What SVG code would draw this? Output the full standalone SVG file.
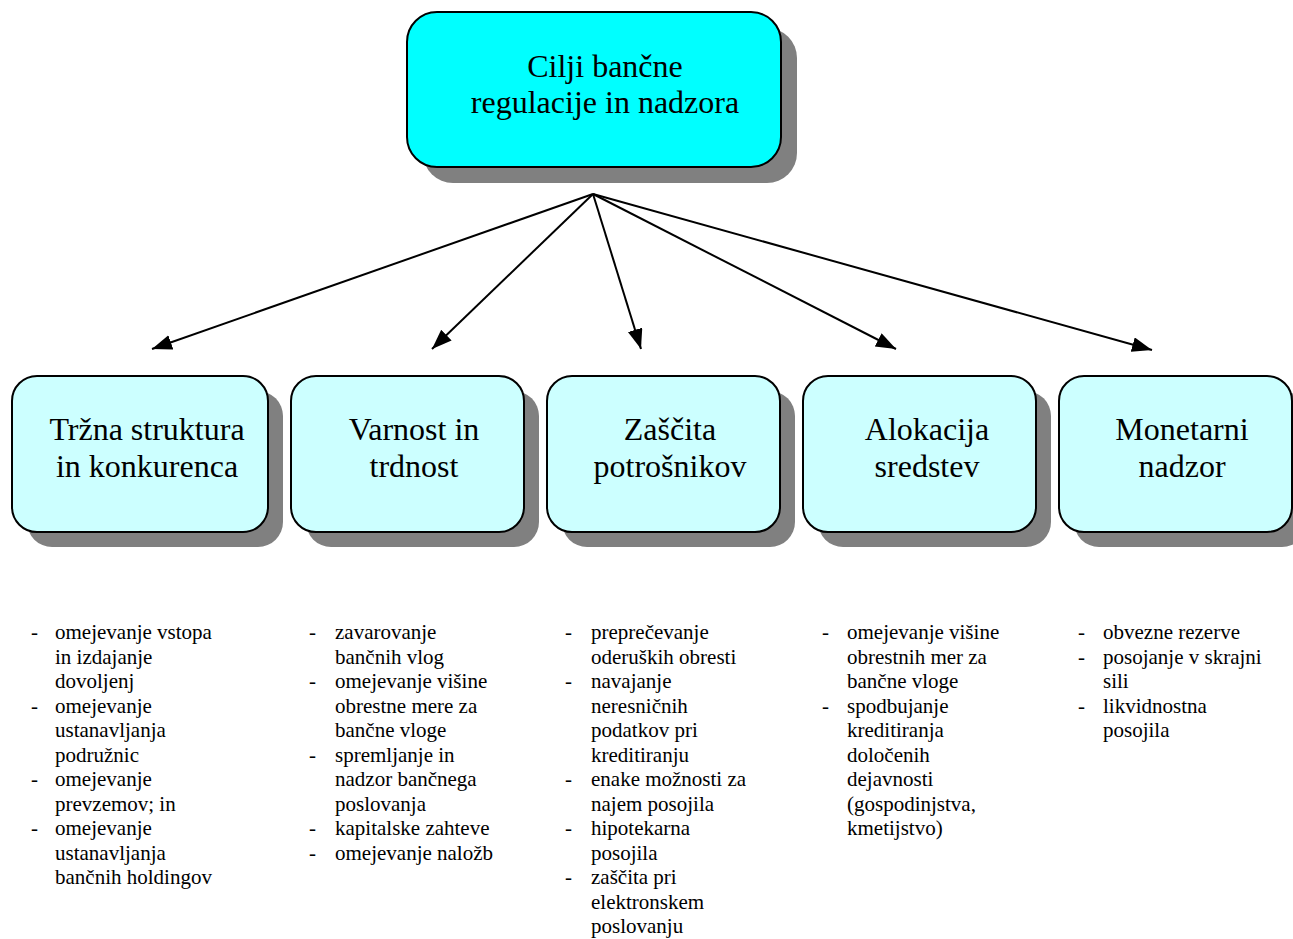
<svg xmlns="http://www.w3.org/2000/svg" width="1293" height="939" viewBox="0 0 1293 939">
<style>
.shadow{fill:#808080}
.top{fill:#00FFFF;stroke:#000;stroke-width:2}
.box{fill:#CCFFFF;stroke:#000;stroke-width:2}
.t{font-family:"Liberation Serif","Times New Roman",serif;font-size:32px;fill:#000;text-anchor:middle}
.l{font-family:"Liberation Serif","Times New Roman",serif;font-size:21px;fill:#000}
.c{stroke:#000;stroke-width:2;fill:none;marker-end:url(#ah)}
</style>
<defs>
<marker id="ah" markerUnits="userSpaceOnUse" markerWidth="22" markerHeight="16" refX="20" refY="7.5" orient="auto">
<path d="M0,0 L20,7.5 L0,15 Z" fill="#000"/>
</marker>
</defs>
<g id="n0">
<rect class="shadow" x="423" y="28" width="374" height="155" rx="30"/>
<rect class="top" x="407" y="12" width="374" height="155" rx="30"/>
<text class="t" x="605" y="77">Cilji bančne</text>
<text class="t" x="605" y="113">regulacije in nadzora</text>
</g>
<g id="connectors">
<line class="c" x1="593" y1="194" x2="152" y2="349"/>
<line class="c" x1="593" y1="194" x2="432" y2="349"/>
<line class="c" x1="593" y1="194" x2="641" y2="349"/>
<line class="c" x1="593" y1="194" x2="896" y2="349"/>
<line class="c" x1="593" y1="194" x2="1152" y2="350"/>
</g>
<g id="n1">
<rect class="shadow" x="27" y="391" width="256" height="156" rx="25"/>
<rect class="box" x="12" y="376" width="256" height="156" rx="25"/>
<text class="t" x="147" y="440">Tržna struktura</text>
<text class="t" x="147" y="477">in konkurenca</text>
</g>
<g id="n2">
<rect class="shadow" x="306" y="391" width="233" height="156" rx="25"/>
<rect class="box" x="291" y="376" width="233" height="156" rx="25"/>
<text class="t" x="414" y="440">Varnost in</text>
<text class="t" x="414" y="477">trdnost</text>
</g>
<g id="n3">
<rect class="shadow" x="562" y="391" width="233" height="156" rx="25"/>
<rect class="box" x="547" y="376" width="233" height="156" rx="25"/>
<text class="t" x="670" y="440">Zaščita</text>
<text class="t" x="670" y="477">potrošnikov</text>
</g>
<g id="n4">
<rect class="shadow" x="818" y="391" width="233" height="156" rx="25"/>
<rect class="box" x="803" y="376" width="233" height="156" rx="25"/>
<text class="t" x="927" y="440">Alokacija</text>
<text class="t" x="927" y="477">sredstev</text>
</g>
<g id="n5">
<rect class="shadow" x="1074" y="391" width="233" height="156" rx="25"/>
<rect class="box" x="1059" y="376" width="233" height="156" rx="25"/>
<text class="t" x="1182" y="440">Monetarni</text>
<text class="t" x="1182" y="477">nadzor</text>
</g>
<g id="list1" class="l">
<text x="31" y="639">-</text><text x="55" y="639">omejevanje vstopa</text>
<text x="55" y="663.5">in izdajanje</text>
<text x="55" y="688">dovoljenj</text>
<text x="31" y="712.5">-</text><text x="55" y="712.5">omejevanje</text>
<text x="55" y="737">ustanavljanja</text>
<text x="55" y="761.5">podružnic</text>
<text x="31" y="786">-</text><text x="55" y="786">omejevanje</text>
<text x="55" y="810.5">prevzemov; in</text>
<text x="31" y="835">-</text><text x="55" y="835">omejevanje</text>
<text x="55" y="859.5">ustanavljanja</text>
<text x="55" y="884">bančnih holdingov</text>
</g>
<g id="list2" class="l">
<text x="309" y="639">-</text><text x="335" y="639">zavarovanje</text>
<text x="335" y="663.5">bančnih vlog</text>
<text x="309" y="688">-</text><text x="335" y="688">omejevanje višine</text>
<text x="335" y="712.5">obrestne mere za</text>
<text x="335" y="737">bančne vloge</text>
<text x="309" y="761.5">-</text><text x="335" y="761.5">spremljanje in</text>
<text x="335" y="786">nadzor bančnega</text>
<text x="335" y="810.5">poslovanja</text>
<text x="309" y="835">-</text><text x="335" y="835">kapitalske zahteve</text>
<text x="309" y="859.5">-</text><text x="335" y="859.5">omejevanje naložb</text>
</g>
<g id="list3" class="l">
<text x="565" y="639">-</text><text x="591" y="639">preprečevanje</text>
<text x="591" y="663.5">oderuških obresti</text>
<text x="565" y="688">-</text><text x="591" y="688">navajanje</text>
<text x="591" y="712.5">neresničnih</text>
<text x="591" y="737">podatkov pri</text>
<text x="591" y="761.5">kreditiranju</text>
<text x="565" y="786">-</text><text x="591" y="786">enake možnosti za</text>
<text x="591" y="810.5">najem posojila</text>
<text x="565" y="835">-</text><text x="591" y="835">hipotekarna</text>
<text x="591" y="859.5">posojila</text>
<text x="565" y="884">-</text><text x="591" y="884">zaščita pri</text>
<text x="591" y="908.5">elektronskem</text>
<text x="591" y="933">poslovanju</text>
</g>
<g id="list4" class="l">
<text x="822" y="639">-</text><text x="847" y="639">omejevanje višine</text>
<text x="847" y="663.5">obrestnih mer za</text>
<text x="847" y="688">bančne vloge</text>
<text x="822" y="712.5">-</text><text x="847" y="712.5">spodbujanje</text>
<text x="847" y="737">kreditiranja</text>
<text x="847" y="761.5">določenih</text>
<text x="847" y="786">dejavnosti</text>
<text x="847" y="810.5">(gospodinjstva,</text>
<text x="847" y="835">kmetijstvo)</text>
</g>
<g id="list5" class="l">
<text x="1078" y="639">-</text><text x="1103" y="639">obvezne rezerve</text>
<text x="1078" y="663.5">-</text><text x="1103" y="663.5">posojanje v skrajni</text>
<text x="1103" y="688">sili</text>
<text x="1078" y="712.5">-</text><text x="1103" y="712.5">likvidnostna</text>
<text x="1103" y="737">posojila</text>
</g>
</svg>
